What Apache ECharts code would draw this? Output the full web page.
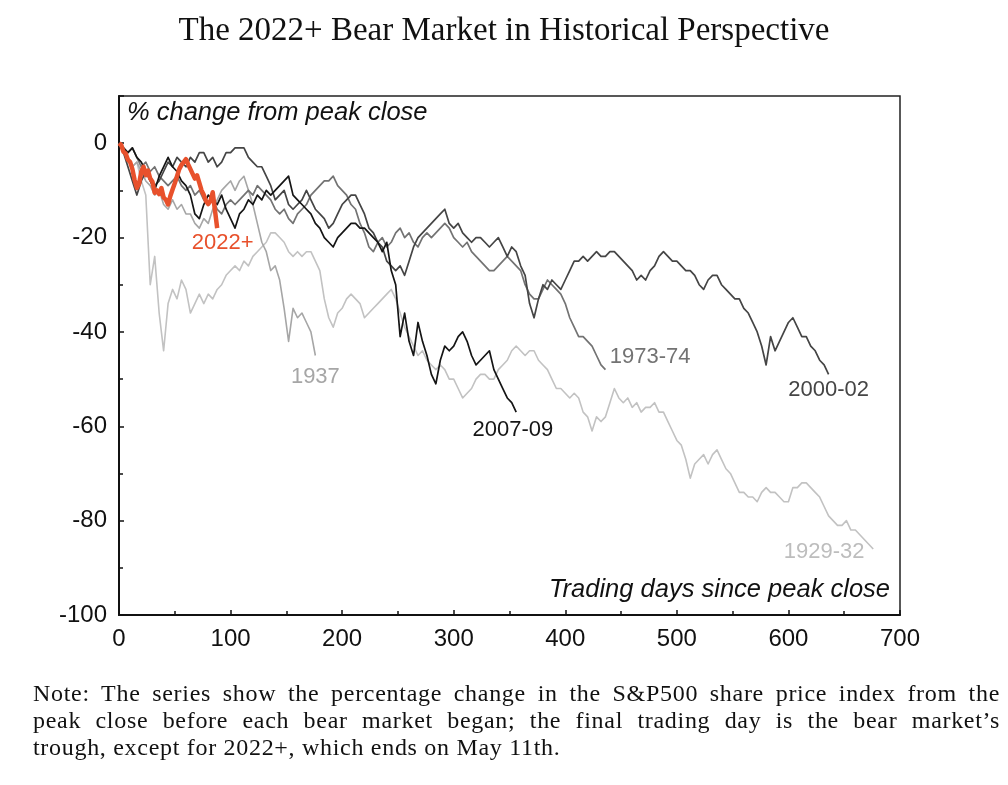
<!DOCTYPE html>
<html>
<head>
<meta charset="utf-8">
<script src="https://cdn.jsdelivr.net/npm/echarts/dist/echarts.min.js"></script>
<style>
  html, body { margin: 0; padding: 0; background: #fff; }
  #wrap { position: relative; width: 1008px; height: 785px; }
  #chart { position: absolute; left: 0; top: 0; width: 1008px; height: 785px; }
  #note {
    position: absolute; left: 33px; top: 680px; width: 967px;
    font-family: 'Liberation Serif', serif; font-size: 24px; line-height: 27px;
    letter-spacing: 0.7px; color: #111;
  }
  #note div { white-space: nowrap; }
  #note .j { text-align: justify; text-align-last: justify; white-space: normal; }
</style>
</head>
<body>
<div id="wrap">
  <div id="chart"></div>
  <div id="note">
    <div class="j">Note: The series show the percentage change in the S&amp;P500 share price index from the</div>
    <div class="j">peak close before each bear market began; the final trading day is the bear market’s</div>
    <div>trough, except for 2022+, which ends on May 11th.</div>
  </div>
</div>
<script>
// % change from peak close, one value every STEP trading days
const STEP = 4;
const STEP_2022 = 2;

const bear1929 = [
  0, -2, -4, -5, -4, -8, -11, -30, -24, -36,
  -44, -34, -31, -33, -29, -31, -36, -34, -32, -34,
  -32, -33, -31, -30, -28, -27, -26, -27, -25, -26,
  -24, -23, -22, -21, -19, -19, -20, -21, -23, -24,
  -23, -24, -23, -23, -25, -27, -33, -37, -39, -36,
  -35, -33, -32, -33, -34, -37, -36, -35, -34, -33,
  -32, -31, -33, -36, -39, -41, -43, -45, -44, -46,
  -47, -48, -47, -48, -50, -50, -52, -54, -53, -52,
  -50, -49, -49, -50, -50, -48, -47, -46, -44, -43,
  -44, -45, -44, -44, -46, -47, -48, -50, -52, -52,
  -53, -54, -53, -54, -57, -58, -61, -58, -59, -58,
  -55, -52, -54, -55, -54, -56, -55, -57, -56, -56,
  -55, -57, -57, -59, -61, -63, -64, -67, -71, -68,
  -67, -66, -68, -66, -65, -67, -69, -70, -72, -74,
  -74, -75, -75, -76, -74, -73, -74, -74, -75, -76,
  -76, -73, -73, -72, -72, -73, -74, -75, -77, -79,
  -80, -81, -81, -80, -82, -82, -83, -84, -85, -86
];

const bear1937 = [
  0, -2, -3, -5, -4, -6, -8, -9, -11, -10,
  -13, -14, -12, -14, -13, -15, -15, -17, -18, -16,
  -17, -14, -12, -10, -9, -8, -10, -8, -7, -10,
  -13, -17, -21, -23, -27, -26, -29, -35, -42, -35,
  -37, -36, -38, -40, -45
];

const bear1973 = [
  0, -1, -2, -1, -3, -5, -4, -6, -5, -7,
  -8, -9, -8, -7, -9, -10, -9, -11, -10, -12,
  -13, -12, -14, -15, -13, -12, -13, -12, -11, -10,
  -11, -9, -10, -11, -12, -14, -15, -14, -16, -17,
  -15, -14, -13, -11, -10, -9, -8, -8, -7, -9,
  -10, -11, -13, -14, -17, -19, -22, -23, -21, -20,
  -22, -21, -19, -18, -20, -19, -21, -22, -20, -19,
  -20, -19, -18, -17, -18, -20, -21, -22, -21, -23,
  -24, -25, -26, -27, -27, -26, -25, -24, -25, -26,
  -27, -30, -32, -33, -33, -31, -29, -30, -31, -32,
  -34, -37, -39, -41, -41, -42, -43, -45, -47, -48
];

const bear2000 = [
  0, -2, -5, -8, -11, -8, -6, -7, -9, -8,
  -6, -4, -5, -3, -4, -5, -3, -4, -2, -2,
  -4, -3, -5, -4, -2, -2, -1, -1, -1, -3,
  -4, -5, -5, -7, -9, -12, -11, -10, -13, -14,
  -13, -12, -10, -12, -14, -15, -16, -18, -17, -15,
  -13, -12, -11, -11, -13, -15, -18, -19, -21, -22,
  -25, -26, -27, -26, -28, -25, -22, -20, -19, -18,
  -17, -16, -15, -14, -17, -18, -17, -19, -20, -21,
  -20, -20, -21, -22, -21, -20, -22, -24, -22, -23,
  -26, -28, -34, -37, -33, -30, -31, -29, -30, -31,
  -29, -27, -25, -25, -24, -25, -24, -23, -24, -24,
  -23, -23, -24, -25, -26, -27, -29, -28, -29, -27,
  -26, -24, -23, -24, -25, -25, -26, -27, -27, -28,
  -30, -31, -29, -28, -28, -30, -31, -32, -33, -33,
  -35, -36, -38, -40, -43, -47, -41, -44, -42, -40,
  -38, -37, -39, -41, -41, -43, -44, -46, -47, -49
];

const bear2007 = [
  0, -1, -2, -1, -3, -4, -6, -8, -10, -7,
  -5, -3, -5, -6, -8, -9, -11, -15, -16, -13,
  -11, -12, -13, -11, -14, -16, -18, -15, -14, -12,
  -13, -11, -12, -10, -11, -10, -9, -8, -7, -11,
  -12, -13, -14, -15, -17, -18, -20, -21, -22, -20,
  -19, -18, -17, -17, -18, -18, -19, -20, -21, -23,
  -21, -27, -30, -41, -36, -42, -45, -38, -42, -45,
  -49, -51, -46, -43, -44, -43, -41, -40, -42, -45,
  -47, -46, -45, -44, -48, -50, -52, -54, -55, -57
];

const bear2022 = [
  0, -0.4, -1.8, -2.2, -3.5, -4.0, -5.5, -7.8, -9.5, -8.6,
  -6.0, -5.0, -6.8, -5.8, -7.5, -8.2, -10.5, -10.0, -10.8, -9.5,
  -11.5, -12.0, -13.0, -11.2, -9.8, -8.5, -7.0, -5.5, -4.6, -4.0,
  -3.4, -4.5, -5.5, -6.5, -7.5, -6.8, -8.4, -10.0, -11.0, -12.3,
  -12.9, -12.2, -10.4, -14.2, -18.0
];

const seriesNames = ['1929-32', '1937', '1973-74', '2000-02', '2007-09', '2022+'];
// where each series name is written, in [day, % change]
const labelSpots = [[632, -86.6], [176, -49.5], [476, -45.3], [636, -52.3], [353, -60.8], [93, -21.1]];
const xTicks = [0, 100, 200, 300, 400, 500, 600, 700];

function toPoints(values, step) {
  return values.map(function (v, i) { return [i * step, v]; });
}

const looks = [
  {data: bear1929, step: STEP, color: '#c2c2c2', width: 1.6},
  {data: bear1937, step: STEP, color: '#a6a6a6', width: 1.6},
  {data: bear1973, step: STEP, color: '#737373', width: 1.7},
  {data: bear2000, step: STEP, color: '#454545', width: 1.7},
  {data: bear2007, step: STEP, color: '#151515', width: 1.7},
  {data: bear2022, step: STEP_2022, color: '#e8512c', width: 4.5}
];

const sans = "'Liberation Sans', Arial, sans-serif";

var series = [];
for (var i = 0; i < looks.length; i++) {
  var look = looks[i];
  series.push({
    name: seriesNames[i],
    type: 'line',
    data: toPoints(look.data, look.step),
    showSymbol: false,
    z: 2 + i,
    lineStyle: {color: look.color, width: look.width, join: 'round'},
    itemStyle: {color: look.color},
    markPoint: {
      silent: true,
      symbol: 'rect',
      symbolSize: 1,
      itemStyle: {color: 'rgba(0,0,0,0)'},
      label: {
        show: true, position: 'inside', formatter: seriesNames[i],
        color: look.color === '#c2c2c2' ? '#bdbdbd' : look.color,
        fontSize: 22, fontFamily: sans
      },
      data: [{coord: labelSpots[i]}]
    }
  });
}

var chart = echarts.init(document.getElementById('chart'), null, {renderer: 'canvas'});

chart.setOption({
  animation: false,
  title: {
    text: 'The 2022+ Bear Market in Historical Perspective',
    left: 'center', top: 10,
    textStyle: {fontFamily: "'Liberation Serif', serif", fontSize: 33, fontWeight: 'normal', color: '#111'}
  },
  grid: {
    left: 119, right: 108, top: 96, bottom: 170,
    show: true, borderColor: '#222', borderWidth: 1.5
  },
  xAxis: {
    type: 'value', min: 0, max: 700, interval: 100,
    axisLine: {show: true, onZero: false, lineStyle: {color: '#111', width: 2}},
    axisTick: {show: true, inside: true, length: 5, lineStyle: {color: '#111', width: 1.5}},
    minorTick: {show: true, splitNumber: 2, length: 4, lineStyle: {color: '#111', width: 1.5}},
    splitLine: {show: false},
    axisLabel: {
      color: '#111', fontSize: 24, fontFamily: sans, margin: 12,
      formatter: function (v) { return xTicks.indexOf(v) >= 0 ? String(v) : ''; }
    }
  },
  yAxis: {
    type: 'value', min: -100, max: 10, interval: 20,
    axisLine: {show: true, onZero: false, lineStyle: {color: '#111', width: 2}},
    axisTick: {show: true, inside: true, length: 5, lineStyle: {color: '#111', width: 1.5}},
    minorTick: {show: true, splitNumber: 2, length: 4, lineStyle: {color: '#111', width: 1.5}},
    splitLine: {show: false},
    axisLabel: {
      color: '#111', fontSize: 24, fontFamily: sans, margin: 12,
      formatter: function (v) { return v > 0 ? '' : String(v); }
    }
  },
  graphic: [
    {
      type: 'text', left: 127, top: 100,
      style: {text: '% change from peak close', font: "italic 25.5px 'Liberation Sans', Arial, sans-serif", fill: '#111'}
    },
    {
      type: 'text', right: 118, top: 577,
      style: {text: 'Trading days since peak close', font: "italic 25.5px 'Liberation Sans', Arial, sans-serif", fill: '#111'}
    }
  ],
  series: series
});
</script>
</body>
</html>
